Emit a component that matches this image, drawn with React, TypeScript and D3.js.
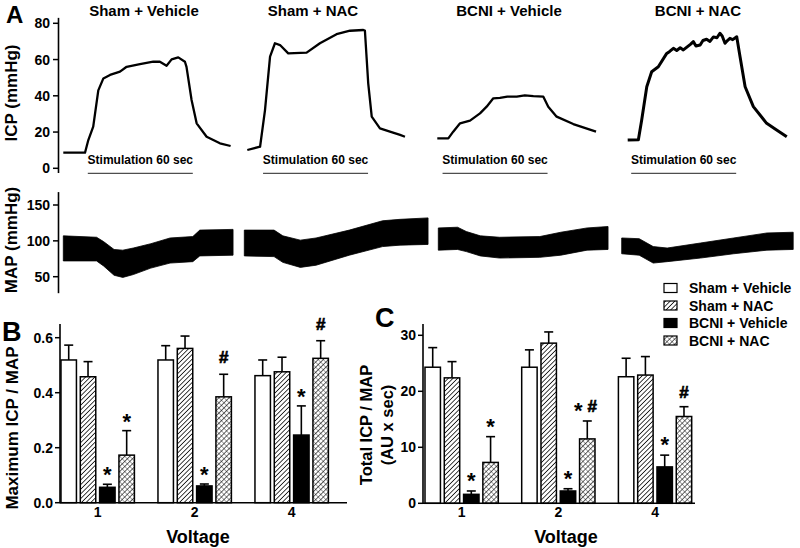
import React from "react";
import * as d3 from "d3";

type P2 = [number, number];
type P3 = [number, number, number];

// ---------- DATA ----------
const groupNames = ["Sham + Vehicle", "Sham + NAC", "BCNI + Vehicle", "BCNI + NAC"];
const voltageLabels = ["1", "2", "4"];

// ICP traces: [time (s), ICP (mmHg)]
const icpShamVehicle: P2[] = [
  [0, 8.6], [12.4, 8.6], [14.3, 15.6], [17.1, 23], [20, 43], [22.9, 49.6], [26.7, 51.5],
  [32.4, 53.3], [36.2, 56], [43.8, 57.5], [51.4, 58.8], [55.2, 58.8], [59, 56.6], [61.9, 60.1],
  [65.7, 61.2], [69.5, 58.8], [70.4, 56], [73.3, 37.7], [76.2, 24.8], [81.9, 17.4], [89.5, 13.8], [95.6, 12.3],
];
const icpShamNAC: P2[] = [
  [0, 10.1], [7.3, 11.9], [10.1, 32], [13, 61.6], [15.8, 69], [18.7, 68], [23.4, 63.4], [33.9, 63.8],
  [41.5, 69], [51, 74], [58.7, 75.9], [66.3, 76.3], [67.2, 76], [69.1, 46.9], [71.1, 28.5], [75.8, 22],
  [81.5, 20.2], [87.3, 18.4], [90.1, 17.4],
];
const icpBCNIVehicle: P2[] = [
  [0, 16.5], [6.3, 16.5], [9.1, 20.2], [13, 24.8], [18.7, 26.3], [24.4, 30.3], [28.2, 34], [32, 38.6],
  [35.8, 38.8], [40, 39.6], [45.4, 39.5], [50, 40.2], [54.9, 39.8], [60.6, 39.5], [63.4, 34], [68.2, 28.5],
  [77.7, 24.4], [90.7, 20.2],
];
const icpBCNINAC: P2[] = [
  [0, 15.6], [6.1, 15.8], [8, 26.6], [10.9, 45], [13.7, 53.3], [17.5, 56], [22.3, 63.4], [24, 64.5],
  [26.1, 66.2], [28, 65], [30, 66.5], [31.8, 65.3], [34, 67], [36, 68.5], [37.5, 69.9], [39, 67.5],
  [41.4, 68], [43, 70.5], [45.1, 71.2], [47, 70], [49, 72.5], [51, 72], [52.7, 74.5], [54, 73],
  [55.6, 69], [57, 70.5], [58.4, 71.7], [60, 71], [62.3, 72.6], [64.2, 61.6], [67.1, 45], [71.8, 34],
  [79.4, 24.8], [85.1, 21.1], [90.9, 17.4],
];
const stimStartSec = [14, 9, 3, 2];
const stimDurationSec = 60;
const stimLabel = "Stimulation 60 sec";

// MAP envelopes: [time (s), upper (mmHg), lower (mmHg)]
const mapShamVehicle: P3[] = [
  [0, 107, 72], [19, 105, 72], [23, 99, 65], [29, 88, 52], [34, 87, 49], [40, 90, 53],
  [50, 96, 62], [61, 104, 69], [74, 106, 71], [78, 115, 79], [97, 116, 80],
];
const mapShamNAC: P3[] = [
  [0, 115, 79], [17, 115, 78], [22, 107, 70], [32, 101, 63], [41, 104, 66], [60, 115, 80],
  [79, 128, 92], [89, 130, 94], [105, 132, 95],
];
const mapBCNIVehicle: P3[] = [
  [0, 118, 87], [11, 119, 88], [16, 113, 85], [24, 107, 79], [35, 105, 76], [58, 106, 77],
  [70, 112, 80], [85, 118, 87], [97, 120, 88],
];
const mapBCNINAC: P3[] = [
  [0, 104, 82], [10, 103, 80], [18, 92, 69], [26, 90, 71], [45, 97, 76], [64, 104, 82],
  [83, 111, 87], [98, 112, 88],
];

const icpTicks = [0, 20, 40, 60, 80];
const mapTicks = [50, 100, 150];
const maxTicks = [0, 0.2, 0.4, 0.6];
const totalTicks = [0, 10, 20, 30];

// Panel B: Maximum ICP / MAP (mean, SEM) per voltage
const maxShamVehicle = [0.519, 0.519, 0.462];
const maxShamVehicleSem = [0.054, 0.052, 0.057];
const maxShamNAC = [0.458, 0.561, 0.476];
const maxShamNACSem = [0.055, 0.045, 0.053];
const maxBCNIVehicle = [0.056, 0.061, 0.246];
const maxBCNIVehicleSem = [0.011, 0.007, 0.106];
const maxBCNINAC = [0.173, 0.385, 0.525];
const maxBCNINACSem = [0.089, 0.082, 0.064];
const maxMarks = [["", "", "*", "*"], ["", "", "*", "#"], ["", "", "*", "#"]];

// Panel C: Total ICP / MAP (mean, SEM)
const totShamVehicle = [24.3, 24.3, 22.6];
const totShamVehicleSem = [3.5, 3.1, 3.3];
const totShamNAC = [22.4, 28.6, 22.9];
const totShamNACSem = [2.9, 2.0, 3.3];
const totBCNIVehicle = [1.6, 2.2, 6.5];
const totBCNIVehicleSem = [0.6, 0.4, 2.1];
const totBCNINAC = [7.3, 11.5, 15.5];
const totBCNINACSem = [4.6, 3.2, 1.75];
const totMarks = [["", "", "*", "*"], ["", "", "*", "*#"], ["", "", "*", "#"]];

// ---------- LAYOUT ----------
const W = 800;
const H = 548;
const FONT = "'Liberation Sans', Arial, Helvetica, sans-serif";
const pxPerSec = 1.75;
const icpLeft = [63.3, 247.3, 437.3, 627.7];
const mapLeft = [63.3, 244.3, 438.3, 621.7];
const titleX = [144, 313, 509, 698];
const fills = ["#fff", "url(#hatch)", "#000", "url(#cross)"];

type BarProps = {
  x0: number; x1: number; axisEnd: number; pInner: number; pOuter: number; align: number;
  yScale: d3.ScaleLinear<number, number>; ticks: number[]; fmt: (v: number) => string;
  means: number[][]; sems: number[][]; marks: string[][]; starGap: number; hashGap: number;
  voltageX: number;
};

function Hash({ x, y }: { x: number; y: number }) {
  return (
    <text x={x} y={y} textAnchor="middle" fontSize={17} fontWeight="bold" stroke="#000" strokeWidth={0.7}>#</text>
  );
}

function BarPanel(p: BarProps) {
  const gx = d3.scaleBand<string>().domain(voltageLabels).range([p.x0, p.x1])
    .paddingInner(p.pInner).paddingOuter(p.pOuter).align(p.align);
  const sx = d3.scaleBand<string>().domain(groupNames).range([0, gx.bandwidth()]).paddingInner(0.2).paddingOuter(0);
  const y = p.yScale;
  const [yb, yt] = y.range();
  return (
    <g>
      {voltageLabels.map((v, vi) => (
        <g key={v}>
          {groupNames.map((g, gi) => {
            const m = p.means[gi][vi];
            const e = m + p.sems[gi][vi];
            const bx = (gx(v) as number) + (sx(g) as number);
            const bw = sx.bandwidth();
            const cx = bx + bw / 2;
            const mk = p.marks[vi][gi];
            const topY = y(e);
            return (
              <g key={g}>
                <line x1={cx} x2={cx} y1={y(m)} y2={topY} stroke="#000" strokeWidth={1.6} />
                <line x1={cx - 4.5} x2={cx + 4.5} y1={topY} y2={topY} stroke="#000" strokeWidth={1.6} />
                <rect x={bx} y={y(m)} width={bw} height={y(0) - y(m)} fill={fills[gi]} stroke="#000" strokeWidth={1.5} />
                {mk === "*" && (
                  <text x={cx} y={topY - p.starGap + 11} textAnchor="middle" fontSize={22} fontWeight="bold">*</text>
                )}
                {mk === "#" && <Hash x={cx} y={topY - p.hashGap + 6} />}
                {mk === "*#" && (
                  <g>
                    <text x={cx - 9} y={topY - p.starGap + 11} textAnchor="middle" fontSize={22} fontWeight="bold">*</text>
                    <Hash x={cx + 5} y={topY - p.hashGap + 6} />
                  </g>
                )}
              </g>
            );
          })}
          <text x={(gx(v) as number) + gx.bandwidth() / 2} y={y(0) + 14} textAnchor="middle" fontSize={14} fontWeight="bold">{v}</text>
        </g>
      ))}
      <line x1={p.x0} x2={p.axisEnd} y1={y(0)} y2={y(0)} stroke="#000" strokeWidth={1.6} />
      <line x1={p.x0} x2={p.x0} y1={yb + 0.5} y2={yt} stroke="#000" strokeWidth={1.6} />
      {p.ticks.map((t) => (
        <g key={t}>
          <line x1={p.x0 - 5} x2={p.x0} y1={y(t)} y2={y(t)} stroke="#000" strokeWidth={1.5} />
          <text x={p.x0 - 7} y={y(t) + 5} textAnchor="end" fontSize={14} fontWeight="bold">{p.fmt(t)}</text>
        </g>
      ))}
      <text x={p.voltageX} y={y(0) + 40} textAnchor="middle" fontSize={18} fontWeight="bold">Voltage</text>
    </g>
  );
}

export default function App() {
  const icpY = d3.scaleLinear().domain([0, 80]).range([168.3, 23.3]);
  const mapY = d3.scaleLinear().domain([50, 150]).range([276.7, 205]);
  const icpTraces = [icpShamVehicle, icpShamNAC, icpBCNIVehicle, icpBCNINAC];
  const mapTraces = [mapShamVehicle, mapShamNAC, mapBCNIVehicle, mapBCNINAC];

  const maxY = d3.scaleLinear().domain([0, 0.65]).range([502.7, 323.95]);
  const totY = d3.scaleLinear().domain([0, 32]).range([503.3, 324.1]);

  const maxMeans = [maxShamVehicle, maxShamNAC, maxBCNIVehicle, maxBCNINAC];
  const maxSems = [maxShamVehicleSem, maxShamNACSem, maxBCNIVehicleSem, maxBCNINACSem];
  const totMeans = [totShamVehicle, totShamNAC, totBCNIVehicle, totBCNINAC];
  const totSems = [totShamVehicleSem, totShamNACSem, totBCNIVehicleSem, totBCNINACSem];

  return (
    <svg width={W} height={H} viewBox={`0 0 ${W} ${H}`}
      style={{ position: "absolute", left: 0, top: 0, background: "#fff" }}
      fontFamily={FONT} fill="#000">
      <defs>
        <pattern id="hatch" patternUnits="userSpaceOnUse" width={3.3} height={3.3} patternTransform="rotate(45)">
          <rect width={3.3} height={3.3} fill="#fff" />
          <line x1={0} y1={0} x2={0} y2={3.3} stroke="#000" strokeWidth={1.5} />
        </pattern>
        <pattern id="cross" patternUnits="userSpaceOnUse" width={3.6} height={3.6} patternTransform="rotate(45)">
          <rect width={3.6} height={3.6} fill="#fff" />
          <line x1={0} y1={0} x2={0} y2={3.6} stroke="#000" strokeWidth={1.2} />
          <line x1={0} y1={0} x2={3.6} y2={0} stroke="#000" strokeWidth={0.7} />
        </pattern>
      </defs>

      {/* Panel A */}
      <text x={6} y={23} fontSize={24} fontWeight="bold">A</text>
      <text transform="translate(17,93) rotate(-90)" textAnchor="middle" fontSize={17} fontWeight="bold">ICP (mmHg)</text>
      <text transform="translate(17,240) rotate(-90)" textAnchor="middle" fontSize={17} fontWeight="bold">MAP (mmHg)</text>

      {/* ICP axis */}
      <line x1={58.5} x2={58.5} y1={icpY(83)} y2={icpY(-2.6)} stroke="#000" strokeWidth={1.6} />
      {icpTicks.map((t) => (
        <g key={t}>
          <line x1={53} x2={58.5} y1={icpY(t)} y2={icpY(t)} stroke="#000" strokeWidth={1.5} />
          <text x={50} y={icpY(t) + 5} textAnchor="end" fontSize={14} fontWeight="bold">{t}</text>
        </g>
      ))}
      {/* MAP axis */}
      <line x1={58.5} x2={58.5} y1={mapY(168)} y2={mapY(27)} stroke="#000" strokeWidth={1.6} />
      {mapTicks.map((t) => (
        <g key={t}>
          <line x1={53} x2={58.5} y1={mapY(t)} y2={mapY(t)} stroke="#000" strokeWidth={1.5} />
          <text x={50} y={mapY(t) + 5} textAnchor="end" fontSize={14} fontWeight="bold">{t}</text>
        </g>
      ))}

      {groupNames.map((name, i) => {
        const tx = d3.scaleLinear().domain([0, 100]).range([icpLeft[i], icpLeft[i] + 100 * pxPerSec]);
        const mx = d3.scaleLinear().domain([0, 100]).range([mapLeft[i], mapLeft[i] + 100 * pxPerSec]);
        const line = d3.line<P2>().x((d) => tx(d[0])).y((d) => icpY(d[1]));
        const area = d3.area<P3>().x((d) => mx(d[0])).y0((d) => mapY(d[2])).y1((d) => mapY(d[1]));
        const s0 = tx(stimStartSec[i]);
        const s1 = tx(stimStartSec[i] + stimDurationSec);
        return (
          <g key={name}>
            <text x={titleX[i]} y={15.5} textAnchor="middle" fontSize={15} fontWeight="bold">{name}</text>
            <path d={line(icpTraces[i]) || ""} fill="none" stroke="#000" strokeWidth={i === 3 ? 3 : 2.3} strokeLinejoin="round" />
            <text x={(s0 + s1) / 2} y={164} textAnchor="middle" fontSize={12} fontWeight="bold">{stimLabel}</text>
            <line x1={s0} x2={s1} y1={173.3} y2={173.3} stroke="#222" strokeWidth={1} />
            <path d={area(mapTraces[i]) || ""} fill="#000" stroke="#000" strokeWidth={0.8} />
          </g>
        );
      })}

      {/* Panel B */}
      <text x={2} y={341} fontSize={27} fontWeight="bold">B</text>
      <text transform="translate(18,428) rotate(-90)" textAnchor="middle" fontSize={17} fontWeight="bold">Maximum ICP / MAP</text>
      <BarPanel x0={60} x1={347} axisEnd={347} pInner={0.243} pOuter={0.101} align={0.05}
        yScale={maxY} ticks={maxTicks} fmt={d3.format(".1f")} means={maxMeans} sems={maxSems}
        marks={maxMarks} starGap={13} hashGap={17} voltageX={198} />

      {/* Panel C */}
      <text x={375} y={327} fontSize={27} fontWeight="bold">C</text>
      <text transform="translate(372,425) rotate(-90)" textAnchor="middle" fontSize={16.5} fontWeight="bold">Total ICP / MAP</text>
      <text transform="translate(393,425) rotate(-90)" textAnchor="middle" fontSize={16.5} fontWeight="bold">(AU x sec)</text>
      <BarPanel x0={423} x1={695} axisEnd={695} pInner={0.242} pOuter={0.0274} align={0.377}
        yScale={totY} ticks={totalTicks} fmt={d3.format("d")} means={totMeans} sems={totSems}
        marks={totMarks} starGap={14} hashGap={15} voltageX={566} />

      {/* Legend */}
      {groupNames.map((g, i) => (
        <g key={g}>
          <rect x={664} y={283.5 + i * 17.5} width={13} height={9} fill={fills[i]} stroke="#000" strokeWidth={1.2} />
          <text x={689} y={293 + i * 17.5} fontSize={14} fontWeight="bold">{g}</text>
        </g>
      ))}
    </svg>
  );
}
